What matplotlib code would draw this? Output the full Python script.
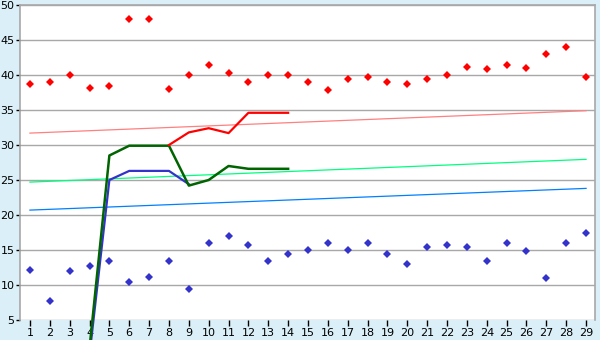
import matplotlib
matplotlib.use("Agg")
import matplotlib.pyplot as plt

# category positions 1..29
days = list(range(1, 30))

# scattered points (diamonds)
red_pts = [38.7, 39.0, 40.0, 38.2, 38.4, 48.0, 48.0, 38.0, 40.0, 41.4,
           40.3, 39.0, 40.0, 40.0, 39.0, 37.8, 39.5, 39.7, 39.0, 38.7,
           39.5, 40.0, 41.2, 40.8, 41.5, 41.0, 43.0, 44.0, 39.7]
blue_pts = [12.2, 7.7, 12.0, 12.7, 13.4, 10.5, 11.2, 13.5, 9.5, 16.0,
            17.0, 15.7, 13.5, 14.4, 15.0, 16.0, 15.0, 16.0, 14.4, 13.0,
            15.4, 15.7, 15.5, 13.5, 16.0, 14.8, 11.0, 16.0, 17.4]

# lines
red_x = [8, 9, 10, 11, 12, 13, 14]
red_line = [30.0, 31.8, 32.4, 31.7, 34.6, 34.6, 34.6]
green_x = [4, 5, 6, 7, 8, 9, 10, 11, 12, 13, 14]
green_line = [1.0, 28.5, 29.9, 29.9, 29.9, 24.2, 25.0, 27.0, 26.6, 26.6, 26.6]
blue_x = [4, 5, 6, 7, 8, 9]
blue_line = [0.0, 25.0, 26.3, 26.3, 26.3, 24.4]

# trend lines (start / end values at x=1 and x=29)
trend_x = [1, 29]
red_trend = [31.7, 34.9]
green_trend = [24.7, 27.95]
blue_trend = [20.7, 23.8]

bg = '#DAEFF7'
fig = plt.figure(figsize=(6, 3.4), dpi=100, facecolor=bg)
ax = fig.add_axes([20 / 600, 20 / 340, 575 / 600, 315 / 340])
ax.set_facecolor('white')

ax.set_xlim(0.5, 29.45)
ax.set_ylim(5, 50)
ax.set_yticks(range(5, 51, 5))
ax.set_xticks(days)
ax.yaxis.grid(True, color='#A8A8A8', linewidth=1.0)
ax.set_axisbelow(True)

for s in ['left', 'right', 'top']:
    ax.spines[s].set_color('#A8A8A8')
    ax.spines[s].set_linewidth(1.2)
ax.spines['bottom'].set_visible(False)

ax.tick_params(axis='y', length=3, width=1, color='black', labelsize=8, pad=1)
ax.tick_params(axis='x', length=4, width=1, color='black', labelsize=8, pad=2)

# trend lines
ax.plot(trend_x, red_trend, color='#FF8080', lw=0.9)
ax.plot(trend_x, green_trend, color='#00FF80', lw=0.9)
ax.plot(trend_x, blue_trend, color='#0080FF', lw=0.9)

# series lines (not clipped, they run past the axis like the original)
ax.plot(blue_x, blue_line, color='#3333CC', lw=1.6, clip_on=False)
ax.plot(green_x, green_line, color='#006400', lw=1.8, clip_on=False)
ax.plot(red_x, red_line, color='#FF0000', lw=1.6)

# scatter markers
ax.plot(days, red_pts, linestyle='none', marker='D', markersize=3.8,
        color='#FF0000', markeredgewidth=0)
ax.plot(days, blue_pts, linestyle='none', marker='D', markersize=3.8,
        color='#3333CC', markeredgewidth=0)

fig.savefig('out.png', dpi=100, facecolor=bg)
